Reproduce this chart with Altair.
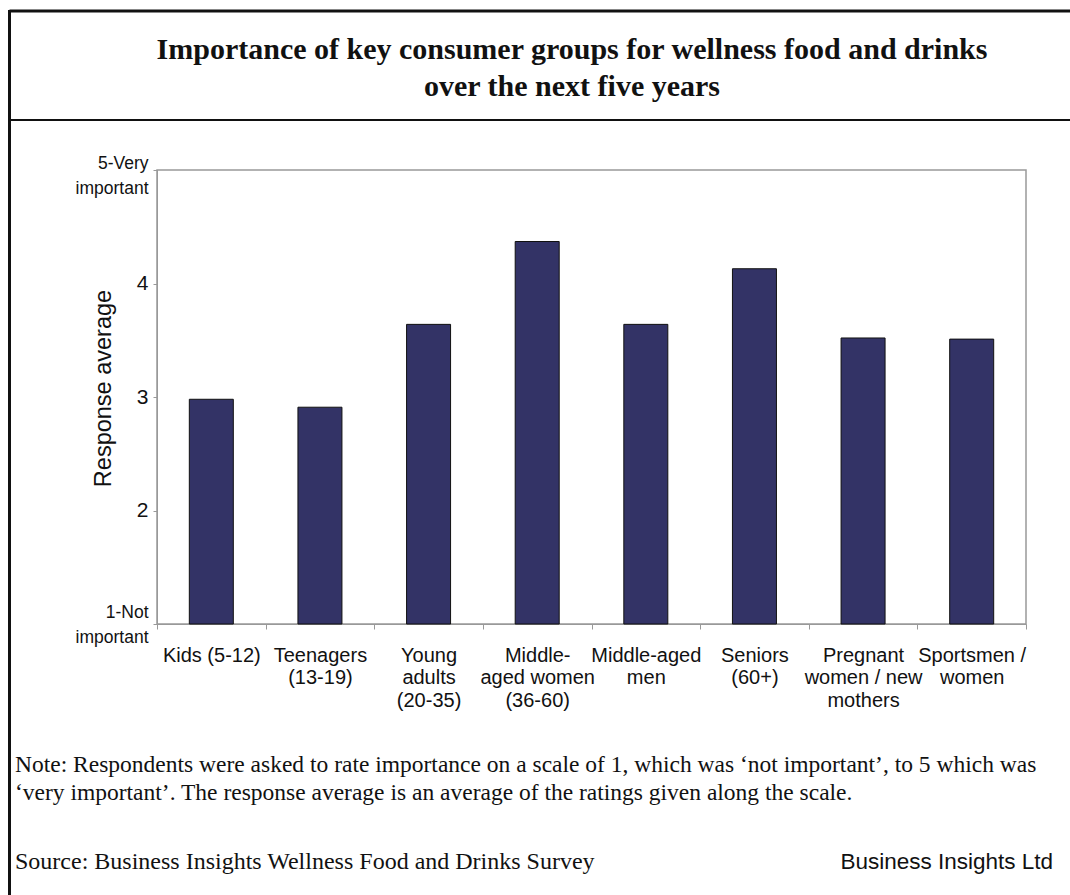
import altair as alt
import pandas as pd

categories = [
    "Kids (5-12)",
    "Teenagers\n(13-19)",
    "Young\nadults\n(20-35)",
    "Middle-\naged women\n(36-60)",
    "Middle-aged\nmen",
    "Seniors\n(60+)",
    "Pregnant\nwomen / new\nmothers",
    "Sportsmen /\nwomen",
]
values = [2.98, 2.91, 3.64, 4.37, 3.64, 4.13, 3.52, 3.51]
y_ticks = [1, 2, 3, 4, 5]

title_lines = [
    "Importance of key consumer groups for wellness food and drinks",
    "over the next five years",
]
note_lines = [
    "Note: Respondents were asked to rate importance on a scale of 1, which was \u2018not important\u2019, to 5 which was",
    "\u2018very important\u2019. The response average is an average of the ratings given along the scale.",
]
source_text = "Source: Business Insights Wellness Food and Drinks Survey"
credit_text = "Business Insights Ltd"

W, H = 869, 454
PL, PT = 157, 170

df = pd.DataFrame({"group": categories, "value": values})

bars = alt.Chart(df).mark_bar(
    size=44, color="#333366", stroke="#111111", strokeWidth=1
).encode(
    x=alt.X(
        "group:N",
        sort=categories,
        scale=alt.Scale(paddingInner=0, paddingOuter=0),
        axis=alt.Axis(
            title=None,
            labelExpr="split(datum.label, '\\n')",
            labelAngle=0,
            labelAlign="center",
            labelBaseline="top",
            labelFont="Liberation Sans",
            labelFontSize=20,
            labelColor="#111111",
            labelLineHeight=22.5,
            labelPadding=16,
            labelLimit=200,
            tickBand="extent",
            tickSize=5,
            tickColor="#999999",
            domainColor="#999999",
        ),
    ),
    y=alt.Y(
        "value:Q",
        scale=alt.Scale(domain=[1, 5], nice=False, zero=False),
        axis=alt.Axis(
            title="Response average",
            values=y_ticks,
            grid=False,
            labelExpr="datum.value == 5 ? ['5-Very', 'important'] : (datum.value == 1 ? ['1-Not', 'important'] : datum.label)",
            labelFont="Liberation Sans",
            labelFontSize={"condition": {"test": "datum.value == 1 || datum.value == 5", "value": 17.5}, "value": 21},
            labelOffset={"condition": [
                {"test": "datum.value == 5", "value": -7},
                {"test": "datum.value == 1", "value": -12},
            ], "value": 0},
            labelColor="#111111",
            labelLineHeight=25,
            labelPadding=5,
            tickSize=4,
            tickColor="#999999",
            domainColor="#999999",
            titleFont="Liberation Sans",
            titleFontSize=23.5,
            titleFontWeight="normal",
            titleColor="#111111",
            titleX=-54,
            titleY=218,
            titleAngle=-90,
            titleAlign="center",
            titleBaseline="middle",
        ),
    ),
    y2=alt.datum(1),
)

def text_layer(txt, x, y, font, size, weight="normal", align="left"):
    return alt.Chart(pd.DataFrame({"t": [txt]})).mark_text(
        font=font, fontSize=size, fontWeight=weight, align=align,
        baseline="middle", color="#111111"
    ).encode(text="t:N", x=alt.value(x), y=alt.value(y))

def rule_layer(x, x2, y, y2, w, color="#111111"):
    return alt.Chart(pd.DataFrame({"a": [0]})).mark_rule(
        strokeWidth=w, color=color
    ).encode(x=alt.value(x), x2=alt.value(x2), y=alt.value(y), y2=alt.value(y2))

layers = [bars]
layers.append(text_layer(title_lines[0], 572 - PL, 50 - PT, "Liberation Serif", 30, "bold", "center"))
layers.append(text_layer(title_lines[1], 572 - PL, 87 - PT, "Liberation Serif", 30, "bold", "center"))
layers.append(text_layer(note_lines[0], 15 - PL, 765 - PT, "Liberation Serif", 23.5))
layers.append(text_layer(note_lines[1], 15 - PL, 793 - PT, "Liberation Serif", 23.5))
layers.append(text_layer(source_text, 15 - PL, 862 - PT, "Liberation Serif", 24))
layers.append(text_layer(credit_text, 1053 - PL, 862 - PT, "Liberation Sans", 22.5, "normal", "right"))

layers.append(rule_layer(9.5 - PL, 1070 - PL, 11 - PT, 11 - PT, 3))
layers.append(rule_layer(9.5 - PL, 9.5 - PL, 10 - PT, 895 - PT, 3))
layers.append(rule_layer(9.5 - PL, 1070 - PL, 120 - PT, 120 - PT, 2))

chart = alt.layer(*layers).properties(
    width=W, height=H,
    autosize=alt.AutoSizeParams(type="none"),
    padding={"left": PL, "top": PT, "right": 1070 - PL - W, "bottom": 895 - PT - H},
    background="white",
).configure_view(stroke="#999999", strokeWidth=1.5)

chart.save("out.html", embed_options={"renderer": "svg", "actions": False})
